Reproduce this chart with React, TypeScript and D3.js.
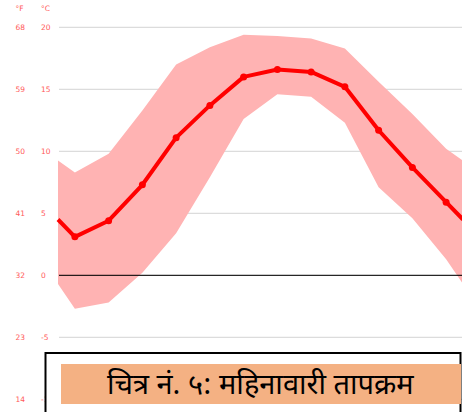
import * as d3 from 'd3';
import { useEffect, useRef } from "react";

const months = ['Jan', 'Feb', 'Mar', 'Apr', 'May', 'Jun', 'Jul', 'Aug', 'Sep', 'Oct', 'Nov', 'Dec'];
const avgTemp = [3.1, 4.4, 7.3, 11.1, 13.7, 16.0, 16.6, 16.4, 15.2, 11.7, 8.7, 5.9];
const maxTemp = [8.3, 9.8, 13.3, 17.0, 18.4, 19.4, 19.3, 19.1, 18.3, 15.6, 13.0, 10.2];
const minTemp = [-2.7, -2.2, 0.2, 3.4, 7.9, 12.6, 14.6, 14.4, 12.3, 7.1, 4.6, 1.3];
const celsiusTicks = [20, 15, 10, 5, 0, -5, -10];
const title = 'चित्र नं. ५: महिनावारी तापक्रम';

const WIDTH = 462;
const HEIGHT = 412;

type pt = { i: number, avg: number, hi: number, lo: number };

export default function App() {
    const ref = useRef(null);
    useEffect(() => {
        if (!ref.current) return;
        const svg = d3.select(ref.current);
        svg.selectAll("*").remove();

        const x = d3.scaleLinear().domain([-0.5, 11.5]).range([58, 463]);
        const y = d3.scaleLinear().domain([20, -10]).range([27.3, 399.3]);

        // wrap the year round: half a month before Jan / after Dec
        const n = months.length;
        const edge = (arr: number[]) => (arr[0] + arr[n - 1]) / 2;
        const pts: pt[] = months.map((_, i) => ({ i, avg: avgTemp[i], hi: maxTemp[i], lo: minTemp[i] }));
        const first: pt = { i: -0.5, avg: edge(avgTemp), hi: edge(maxTemp), lo: edge(minTemp) };
        const last: pt = { i: 11.5, avg: edge(avgTemp), hi: edge(maxTemp), lo: edge(minTemp) };
        const full = [first, ...pts, last];

        const labels = svg.append('g')
            .style('font-family', '"DejaVu Sans", Verdana, sans-serif')
            .style('font-size', '7.5px')
            .attr('fill', '#ff5a5a');

        labels.append('text').attr('x', 15.5).attr('y', 8).attr('dy', '0.35em').text('°F');
        labels.append('text').attr('x', 41).attr('y', 8).attr('dy', '0.35em').text('°C');

        labels.selectAll('.tc')
            .data(celsiusTicks)
            .enter()
            .append('text')
            .attr('class', 'tc')
            .attr('x', 41)
            .attr('y', d => y(d))
            .attr('dy', '0.35em')
            .text(d => d);

        labels.selectAll('.tf')
            .data(celsiusTicks)
            .enter()
            .append('text')
            .attr('class', 'tf')
            .attr('x', 15.5)
            .attr('y', d => y(d))
            .attr('dy', '0.35em')
            .text(d => Math.round(d * 9 / 5 + 32));

        svg.append('g').selectAll('line')
            .data(celsiusTicks.filter(d => d !== 0))
            .enter()
            .append('line')
            .attr('x1', 59)
            .attr('x2', WIDTH)
            .attr('y1', d => y(d))
            .attr('y2', d => y(d))
            .attr('stroke', '#dcdcdc')
            .attr('stroke-width', 1.2);

        const area = d3.area<pt>()
            .x(d => x(d.i))
            .y0(d => y(d.lo))
            .y1(d => y(d.hi));

        svg.append('path')
            .datum(full)
            .attr('d', area)
            .attr('fill', '#ffb3b3');

        svg.append('line')
            .attr('x1', 59)
            .attr('x2', WIDTH)
            .attr('y1', y(0))
            .attr('y2', y(0))
            .attr('stroke', '#000')
            .attr('stroke-opacity', 0.85)
            .attr('stroke-width', 1.2);

        const line = d3.line<pt>()
            .x(d => x(d.i))
            .y(d => y(d.avg));

        svg.append('path')
            .datum(full)
            .attr('d', line)
            .attr('fill', 'none')
            .attr('stroke', '#ff0000')
            .attr('stroke-width', 4)
            .attr('stroke-linejoin', 'round');

        svg.selectAll('.dot')
            .data(pts)
            .enter()
            .append('circle')
            .attr('class', 'dot')
            .attr('cx', d => x(d.i))
            .attr('cy', d => y(d.avg))
            .attr('r', 3.5)
            .attr('fill', '#ff0000');

        // caption box
        svg.append('rect')
            .attr('x', 45.5)
            .attr('y', 353)
            .attr('width', 415)
            .attr('height', 80)
            .attr('fill', '#fff')
            .attr('stroke', '#000')
            .attr('stroke-width', 2);

        svg.append('rect')
            .attr('x', 61)
            .attr('y', 364)
            .attr('width', 400)
            .attr('height', 40)
            .attr('fill', '#f4b183');

        svg.append('text')
            .attr('x', 107)
            .attr('y', 394)
            .style('font-family', '"Noto Sans Devanagari", "Lohit Devanagari", Mangal, sans-serif')
            .style('font-size', '29px')
            .attr('fill', '#000')
            .text(title);
    }, []);

    return (
        <svg ref={ref} width={WIDTH} height={HEIGHT}
            style={{ position: 'absolute', left: 0, top: 0, background: '#fff' }}></svg>
    );
}
